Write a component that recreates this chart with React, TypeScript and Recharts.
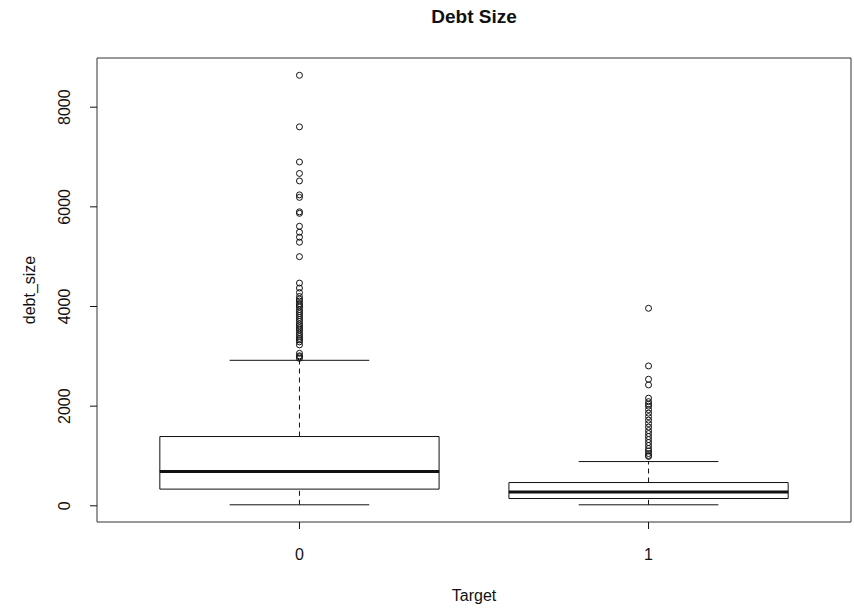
import React from "react";
import {
  ComposedChart,
  XAxis,
  YAxis,
  Scatter,
  ReferenceArea,
  ReferenceLine,
  Label,
} from "recharts";

// box statistics per Target group
const categories = ["0", "1"];
const lowerWhisker = [20, 20];
const q1 = [335, 146];
const median = [688, 275];
const q3 = [1390, 467];
const upperWhisker = [2920, 888];

const outliers0 = [
  8640, 7605, 6900, 6670, 6520, 6240, 6190, 5900, 5870, 5610, 5490, 5390, 5290,
  5000, 4470, 4370, 4280, 4200, 4150, 4110, 4060, 4030, 3990, 3940, 3900, 3860,
  3820, 3780, 3740, 3700, 3650, 3610, 3570, 3530, 3480, 3440, 3400, 3360, 3330,
  3290, 3230, 3060, 3010, 2990, 2960,
];
const outliers1 = [
  3964, 2807, 2540, 2426, 2160, 2090, 2040, 2000, 1930, 1860, 1790, 1720, 1650,
  1580, 1510, 1450, 1390, 1330, 1270, 1210, 1150, 1100, 1050, 1010, 990,
];

const yTicks = [0, 2000, 4000, 6000, 8000];

const FONT = "'Liberation Sans', Arial, sans-serif";
const INK = "#111";

const outlierData = [
  ...outliers0.map((v) => ({ x: 1, y: v })),
  ...outliers1.map((v) => ({ x: 2, y: v })),
];

const YTick = (props: any) => {
  const { y, payload } = props;
  return (
    <text
      x={65}
      y={y}
      transform={`rotate(-90 65 ${y})`}
      textAnchor="middle"
      dominantBaseline="central"
      fontSize={16}
      fontFamily={FONT}
      fill={INK}
    >
      {payload.value}
    </text>
  );
};

const XTick = (props: any) => {
  const { x, payload } = props;
  return (
    <text
      x={x}
      y={554}
      textAnchor="middle"
      dominantBaseline="central"
      fontSize={16}
      fontFamily={FONT}
      fill={INK}
    >
      {categories[payload.value - 1]}
    </text>
  );
};

const Ring = (props: any) => (
  <circle cx={props.cx} cy={props.cy} r={3} fill="none" stroke={INK} strokeWidth={1} />
);

export default function App() {
  return (
    <div style={{ position: "absolute", left: 0, top: 0, width: 854, height: 609, background: "#fff" }}>
      <div
        style={{
          position: "absolute",
          left: 97,
          width: 754,
          top: 6,
          textAlign: "center",
          fontFamily: FONT,
          fontWeight: "bold",
          fontSize: 19,
          color: INK,
        }}
      >
        Debt Size
      </div>
      <ComposedChart
        width={854}
        height={609}
        margin={{ top: 58, right: 3, bottom: 0, left: 0 }}
      >
        <XAxis
          type="number"
          dataKey="x"
          domain={[0.42, 2.58]}
          ticks={[1, 2]}
          allowDataOverflow
          axisLine={false}
          tickLine={{ stroke: INK }}
          tickSize={7}
          tick={<XTick />}
          height={87}
        >
          <Label
            content={() => (
              <text x={474} y={595} textAnchor="middle" dominantBaseline="central" fontSize={16} fontFamily={FONT} fill={INK}>
                Target
              </text>
            )}
          />
        </XAxis>
        <YAxis
          type="number"
          dataKey="y"
          domain={[-325, 8987]}
          ticks={yTicks}
          allowDataOverflow
          axisLine={false}
          tickLine={{ stroke: INK }}
          tickSize={7}
          tick={<YTick />}
          width={97}
        >
          <Label
            content={() => (
              <text
                x={29}
                y={290}
                transform="rotate(-90 29 290)"
                textAnchor="middle"
                dominantBaseline="central"
                fontSize={16}
                fontFamily={FONT}
                fill={INK}
              >
                debt_size
              </text>
            )}
          />
        </YAxis>

        {/* plot frame */}
        <ReferenceArea
          x1={0.42}
          x2={2.58}
          y1={-325}
          y2={8987}
          fill="none"
          fillOpacity={0}
          stroke="#333"
          strokeWidth={1}
          ifOverflow="visible"
        />

        {categories.map((c, i) => {
          const cx = i + 1;
          return (
            <React.Fragment key={c}>
              <ReferenceLine
                segment={[{ x: cx, y: q3[i] }, { x: cx, y: upperWhisker[i] }]}
                stroke={INK}
                strokeDasharray="5 4"
                ifOverflow="visible"
              />
              <ReferenceLine
                segment={[{ x: cx, y: lowerWhisker[i] }, { x: cx, y: q1[i] }]}
                stroke={INK}
                strokeDasharray="5 4"
                ifOverflow="visible"
              />
              <ReferenceLine
                segment={[{ x: cx - 0.2, y: upperWhisker[i] }, { x: cx + 0.2, y: upperWhisker[i] }]}
                stroke={INK}
                ifOverflow="visible"
              />
              <ReferenceLine
                segment={[{ x: cx - 0.2, y: lowerWhisker[i] }, { x: cx + 0.2, y: lowerWhisker[i] }]}
                stroke={INK}
                ifOverflow="visible"
              />
              <ReferenceArea
                x1={cx - 0.4}
                x2={cx + 0.4}
                y1={q1[i]}
                y2={q3[i]}
                fill="#fff"
                fillOpacity={1}
                stroke={INK}
                strokeWidth={1}
                ifOverflow="visible"
              />
              <ReferenceLine
                segment={[{ x: cx - 0.4, y: median[i] }, { x: cx + 0.4, y: median[i] }]}
                stroke={INK}
                strokeWidth={3}
                ifOverflow="visible"
              />
            </React.Fragment>
          );
        })}

        <Scatter data={outlierData} dataKey="y" shape={<Ring />} isAnimationActive={false} />
      </ComposedChart>
    </div>
  );
}
